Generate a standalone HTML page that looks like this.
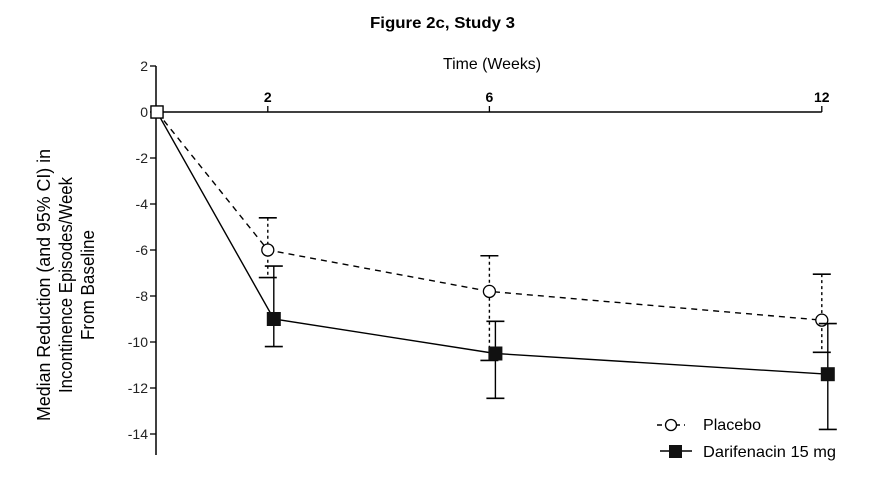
<!DOCTYPE html>
<html><head><meta charset="utf-8"><style>
body{margin:0;background:#fff}
svg{display:block;font-family:"Liberation Sans Narrow","Liberation Sans",sans-serif}
</style></head><body>
<svg id="c" width="884" height="488" viewBox="0 0 884 488">
<text x="370" y="28" font-size="16" font-weight="bold" textLength="145" lengthAdjust="spacingAndGlyphs">Figure 2c, Study 3</text>
<text x="443" y="69" font-size="16" textLength="98" lengthAdjust="spacingAndGlyphs">Time (Weeks)</text>
<g transform="translate(66,285) rotate(-90)" font-size="18" text-anchor="middle">
<text x="0" y="-16" textLength="272" lengthAdjust="spacingAndGlyphs">Median Reduction (and 95% CI) in</text>
<text x="0" y="6" textLength="216" lengthAdjust="spacingAndGlyphs">Incontinence Episodes/Week</text>
<text x="0" y="28" textLength="110" lengthAdjust="spacingAndGlyphs">From Baseline</text>
</g>
<g id="axes"></g><g id="marks"></g>
<g>
<line x1="657" y1="425" x2="685" y2="425" stroke="#000" stroke-width="1.5" stroke-dasharray="5,4"/>
<circle cx="671" cy="425" r="5.5" fill="#fff" stroke="#000" stroke-width="1.3"/>
<text x="703" y="430" font-size="16" textLength="58" lengthAdjust="spacingAndGlyphs">Placebo</text>
<line x1="660" y1="451" x2="692" y2="451" stroke="#000" stroke-width="1.5"/>
<rect x="669" y="445" width="13" height="13" fill="#111"/>
<text x="703" y="457" font-size="16" textLength="133" lengthAdjust="spacingAndGlyphs">Darifenacin 15 mg</text>
</g>
</svg>
<script>
const weeks=[0,2,6,12];
const xTicks=[2,6,12];
const yTicks=[2,0,-2,-4,-6,-8,-10,-12,-14];
const placebo=[0,-6.0,-7.8,-9.05];
const placeboLo=[null,-7.2,-10.8,-10.45];
const placeboHi=[null,-4.6,-6.25,-7.05];
const dari=[0,-9.0,-10.5,-11.4];
const dariLo=[null,-10.2,-12.45,-13.8];
const dariHi=[null,-6.7,-9.1,-9.2];
const NS='http://www.w3.org/2000/svg';
const X=w=>157+w*55.4, Y=v=>112-v*23;
function mk(p,t,a){const e=document.createElementNS(NS,t);for(const k in a)e.setAttribute(k,a[k]);p.appendChild(e);return e;}
const ax=document.getElementById('axes'), mg=document.getElementById('marks');
let e=mk(ax,'line',{x1:156,y1:Y(2),x2:156,y2:455,stroke:'#000','stroke-width':1.5});


e=mk(ax,'line',{x1:156,y1:112,x2:X(12),y2:112,stroke:'#000','stroke-width':1.5});


yTicks.forEach(v=>{mk(ax,'line',{x1:150,y1:Y(v),x2:156,y2:Y(v),stroke:'#000','stroke-width':1.3});
 const t=mk(ax,'text',{x:148,y:Y(v)+5,'text-anchor':'end','font-size':14,fill:'#222'});t.textContent=v;
 
 });
xTicks.forEach(w=>{mk(ax,'line',{x1:X(w),y1:106,x2:X(w),y2:112,stroke:'#000','stroke-width':1.3});
 const t=mk(ax,'text',{x:X(w),y:102,'text-anchor':'middle','font-size':14,'font-weight':'bold'});t.textContent=w;
 
 });
function series(vals,lo,hi,off,dash,name){
 const g=mk(mg,'g',{});
 
 
 const pts=vals.map((v,i)=>(X(weeks[i])+(i?off:0))+','+Y(v)).join(' ');
 mk(g,'polyline',{points:pts,fill:'none',stroke:'#000','stroke-width':1.4,'stroke-dasharray':dash?'6,5':'none'});
 vals.forEach((v,i)=>{if(lo[i]==null)return;const x=X(weeks[i])+off;
  mk(g,'line',{x1:x,y1:Y(hi[i]),x2:x,y2:Y(lo[i]),stroke:'#000','stroke-width':1.4,'stroke-dasharray':dash?'3,3':'none'});
  [hi[i],lo[i]].forEach(c=>mk(g,'line',{x1:x-9,y1:Y(c),x2:x+9,y2:Y(c),stroke:'#000','stroke-width':1.6}));});
 vals.forEach((v,i)=>{const x=X(weeks[i])+(i?off:0);let m;
  if(dash||i==0) m=i==0?mk(g,'rect',{x:x-6,y:Y(v)-6,width:12,height:12,fill:'#fff',stroke:'#000','stroke-width':1.3}):mk(g,'circle',{cx:x,cy:Y(v),r:6,fill:'#fff',stroke:'#000','stroke-width':1.3});
  else m=mk(g,'rect',{x:x-7,y:Y(v)-7,width:14,height:14,fill:'#111'});
  
  });
}
series(placebo,placeboLo,placeboHi,0,true,'placebo');
series(dari,dariLo,dariHi,6,false,'darifenacin');
</script>
</body></html>
